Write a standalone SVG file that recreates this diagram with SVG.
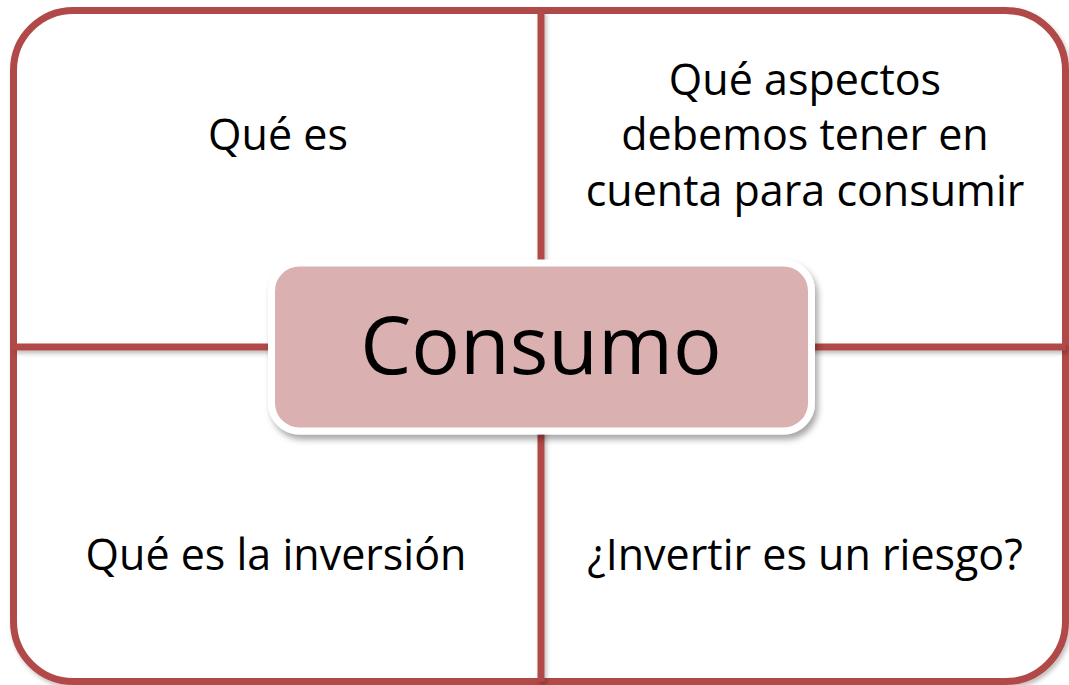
<svg xmlns="http://www.w3.org/2000/svg" width="1069" height="685" viewBox="0 0 1069 685">
  <style>
    .frame { fill: #ffffff; stroke: #b04a47; stroke-width: 7; }
    .divider { stroke: #b04a47; stroke-width: 7; fill: none; }
    .label { font-family: "Open Sans", "Liberation Sans", sans-serif; font-size: 43px; fill: #000000; text-anchor: middle; }
    .center-box { fill: #dbb0b1; stroke: #ffffff; stroke-width: 7; }
    .center-text { font-family: "Open Sans", "Liberation Sans", sans-serif; font-size: 81px; fill: #000000; text-anchor: middle; }
  </style>
  <defs>
    <filter id="softShadow" x="-10%" y="-10%" width="120%" height="130%">
      <feDropShadow dx="2" dy="3" stdDeviation="2" flood-color="#000000" flood-opacity="0.25"/>
    </filter>
    <filter id="boxShadow" x="-10%" y="-20%" width="120%" height="150%">
      <feDropShadow dx="3" dy="5" stdDeviation="3" flood-color="#000000" flood-opacity="0.35"/>
    </filter>
  </defs>
  <rect width="1069" height="685" fill="#ffffff"/>
  <g id="frame" filter="url(#softShadow)">
    <rect class="frame" x="13.5" y="10.5" width="1052" height="671" rx="60" ry="60"/>
  </g>
  <g id="connectors" filter="url(#softShadow)">
    <line class="divider" x1="541" y1="10.5" x2="541" y2="681.5"/>
    <line class="divider" x1="13.5" y1="347" x2="1065.5" y2="347"/>
  </g>
  <g id="node-que-es">
    <text class="label" x="278" y="150">Qué es</text>
  </g>
  <g id="node-aspectos">
    <text class="label" x="805" y="95">Qué aspectos</text>
    <text class="label" x="805" y="150">debemos tener en</text>
    <text class="label" x="805" y="206">cuenta para consumir</text>
  </g>
  <g id="node-inversion">
    <text class="label" x="276" y="570">Qué es la inversión</text>
  </g>
  <g id="node-riesgo">
    <text class="label" x="805" y="570">¿Invertir es un riesgo?</text>
  </g>
  <g id="node-consumo" filter="url(#boxShadow)">
    <rect class="center-box" x="271.5" y="263" width="540" height="168" rx="28" ry="28"/>
    <text class="center-text" x="541" y="374">Consumo</text>
  </g>
</svg>
